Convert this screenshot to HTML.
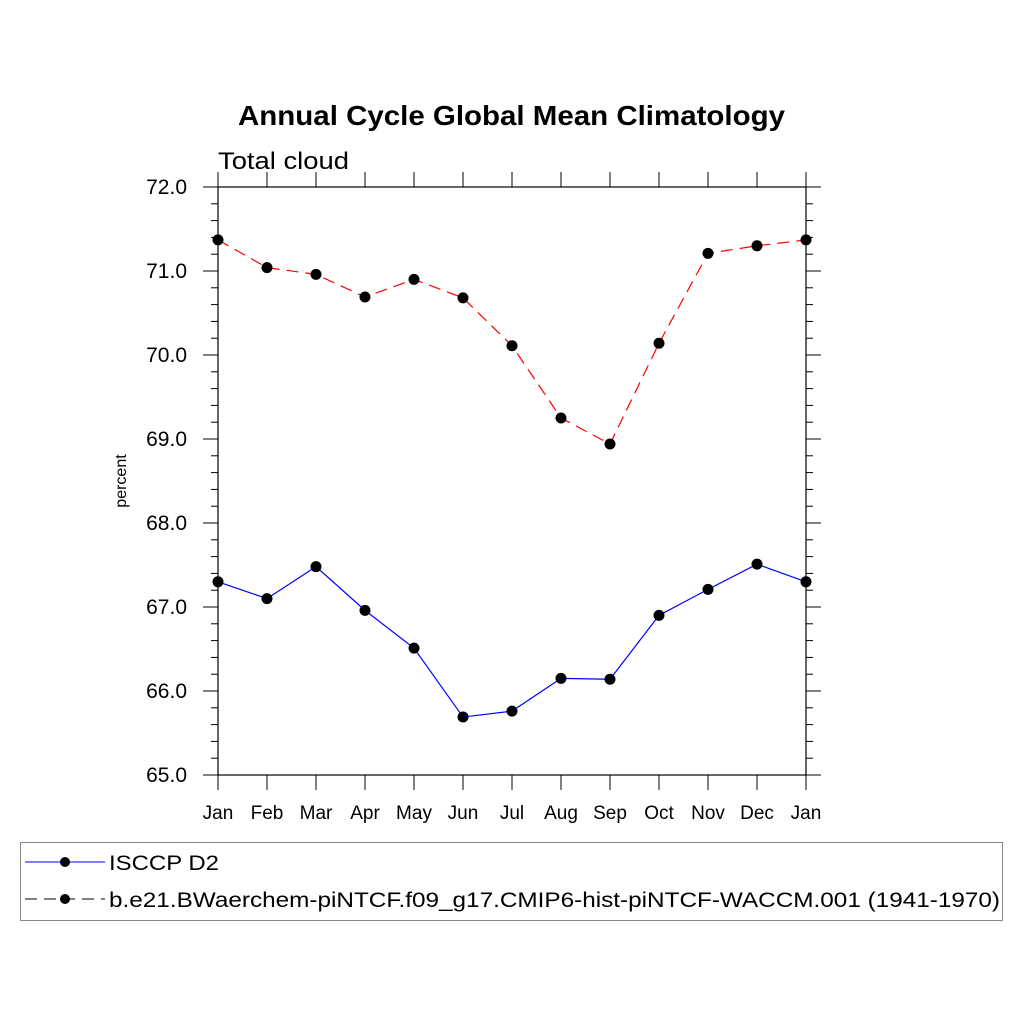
<!DOCTYPE html>
<html><head><meta charset="utf-8"><style>
html,body{margin:0;padding:0;background:#fff;}
text{font-family:"Liberation Sans",sans-serif;}
</style></head><body>
<svg id="chart" width="1024" height="1024" xmlns="http://www.w3.org/2000/svg">
<text x="238" y="125" textLength="547" lengthAdjust="spacingAndGlyphs" font-size="28" font-weight="bold">Annual Cycle Global Mean Climatology</text>
<text x="218" y="169" textLength="131" lengthAdjust="spacingAndGlyphs" font-size="24">Total cloud</text>
<text transform="translate(126,481) rotate(-90)" text-anchor="middle" font-size="16">percent</text>
<g id="axes"></g>
<g id="series"></g>
<rect x="20.5" y="842.5" width="982" height="78" fill="none" stroke="#888"/>
<g>
<line x1="25" y1="862" x2="105" y2="862" stroke="blue" stroke-width="1"/>
<circle cx="65" cy="862" r="5" fill="#000"/>
<text x="109" y="870" textLength="110" lengthAdjust="spacingAndGlyphs" font-size="21">ISCCP D2</text>
</g>
<g>
<line x1="25" y1="899" x2="105" y2="899" stroke="#000" stroke-width="1" stroke-dasharray="12,7"/>
<circle cx="65" cy="899" r="5" fill="#000"/>
<text x="109" y="907" textLength="891" lengthAdjust="spacingAndGlyphs" font-size="21">b.e21.BWaerchem-piNTCF.f09_g17.CMIP6-hist-piNTCF-WACCM.001 (1941-1970)</text>
</g>
</svg>
<script>
const months = ["Jan","Feb","Mar","Apr","May","Jun","Jul","Aug","Sep","Oct","Nov","Dec","Jan"];
const isccp = [67.30,67.10,67.48,66.96,66.51,65.69,65.76,66.15,66.14,66.90,67.21,67.51,67.30];
const model = [71.37,71.04,70.96,70.69,70.90,70.68,70.11,69.25,68.94,70.14,71.21,71.30,71.37];
const yTicks = ["65.0","66.0","67.0","68.0","69.0","70.0","71.0","72.0"];

const NS="http://www.w3.org/2000/svg";
const L=218,R=806,T=187,B=775,yMin=65,yMax=72;
const xs=i=>L+(R-L)*i/(months.length-1);
const ys=v=>B-(v-yMin)/(yMax-yMin)*(B-T);
function mk(tag,attrs,parent){const e=document.createElementNS(NS,tag);for(const k in attrs)e.setAttribute(k,attrs[k]);parent.appendChild(e);return e;}
const ax=document.getElementById('axes');
const fr=mk('rect',{x:L,y:T,width:R-L,height:B-T,fill:'none',stroke:'#000','stroke-width':1.2},ax);


months.forEach((m,i)=>{
  const x=xs(i);
  mk('line',{x1:x,y1:B,x2:x,y2:B+15,stroke:'#000'},ax);
  mk('line',{x1:x,y1:T,x2:x,y2:T-15,stroke:'#000'},ax);
  const t=mk('text',{x:x,y:B+44,'text-anchor':'middle','font-size':19},ax);
  t.textContent=m;
  
  
});
for(let v=yMin;v<=yMax+1e-9;v+=0.2){
  const y=ys(v);const major=Math.abs(v-Math.round(v))<1e-6;const len=major?15:7;
  mk('line',{x1:L,y1:y,x2:L-len,y2:y,stroke:'#000'},ax);
  mk('line',{x1:R,y1:y,x2:R+len,y2:y,stroke:'#000'},ax);
}
yTicks.forEach(s=>{
  const t=mk('text',{x:187,y:ys(parseFloat(s))+7,'text-anchor':'end','font-size':21},ax);
  t.textContent=s;
  
  
});
const sg=document.getElementById('series');
function series(vals,color,dash,name){
  const g=mk('g',{},sg);
  
  
  const pts=vals.map((v,i)=>xs(i)+','+ys(v)).join(' ');
  const a={points:pts,fill:'none',stroke:color,'stroke-width':1.2};
  if(dash)a['stroke-dasharray']=dash;
  mk('polyline',a,g);
  vals.forEach((v,i)=>{
    const c=mk('circle',{cx:xs(i),cy:ys(v),r:5.5,fill:'#000'},g);
    
    
  });
}
series(isccp,'blue',null,'series-isccp');
series(model,'red','12,7','series-model');
</script>
</body></html>
